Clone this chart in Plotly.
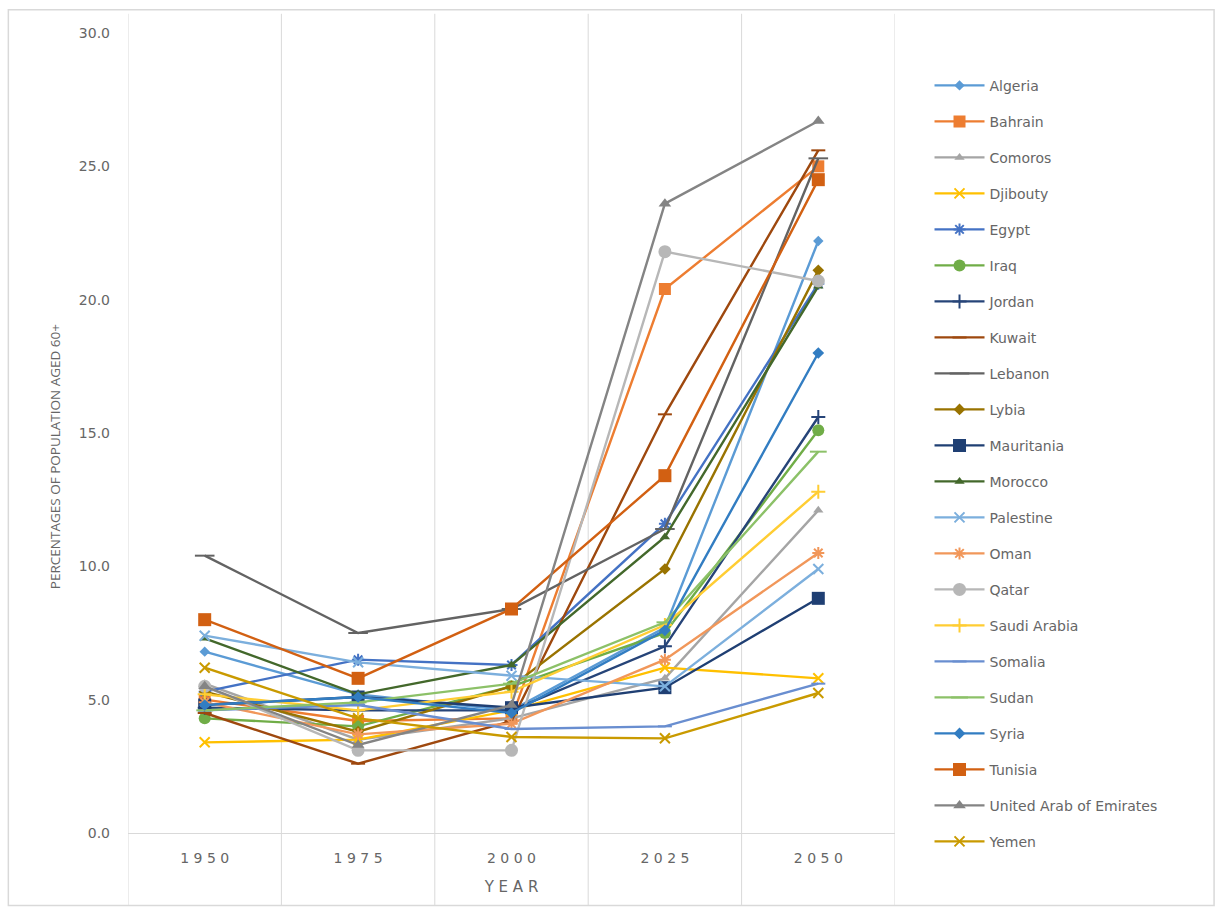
import plotly.graph_objects as go

# Share of population aged 60+ (%), Arab countries, 1950-2050
years = ["1950", "1975", "2000", "2025", "2050"]

countries = [
    "Algeria", "Bahrain", "Comoros", "Djibouty", "Egypt", "Iraq", "Jordan",
    "Kuwait", "Lebanon", "Lybia", "Mauritania", "Morocco", "Palestine",
    "Oman", "Qatar", "Saudi Arabia", "Somalia", "Sudan", "Syria", "Tunisia",
    "United Arab of Emirates", "Yemen",
]

algeria = [6.8, 5.2, 4.6, 7.7, 22.2]
bahrain = [5.0, 4.2, 4.3, 20.4, 25.0]
comoros = [5.6, 3.5, 4.3, 5.8, 12.1]
djibouty = [3.4, 3.5, 4.6, 6.2, 5.8]
egypt = [5.3, 6.5, 6.3, 11.6, 20.6]
iraq = [4.3, 4.0, 5.5, 7.5, 15.1]
jordan = [4.7, 4.6, 4.6, 7.0, 15.6]
kuwait = [4.5, 2.6, 4.2, 15.7, 25.6]
lebanon = [10.4, 7.5, 8.4, 11.4, 25.3]
lybia = [5.3, 3.8, 5.5, 9.9, 21.1]
mauritania = [4.8, 5.1, 4.7, 5.45, 8.8]
morocco = [7.3, 5.2, 6.3, 11.1, 20.5]
palestine = [7.4, 6.4, 5.9, 5.5, 9.9]
oman = [4.9, 3.7, 4.1, 6.5, 10.5]
qatar = [5.5, 3.1, 3.1, 21.8, 20.7]
saudi_arabia = [5.2, 4.6, 5.3, 7.8, 12.8]
somalia = [4.6, 4.8, 3.9, 4.0, 5.6]
sudan = [4.6, 4.9, 5.6, 7.9, 14.3]
syria = [4.8, 5.1, 4.5, 7.6, 18.0]
tunisia = [8.0, 5.8, 8.4, 13.4, 24.5]
uae = [5.5, 3.3, 4.8, 23.6, 26.7]
yemen = [6.2, 4.3, 3.6, 3.55, 5.25]

series = [algeria, bahrain, comoros, djibouty, egypt, iraq, jordan, kuwait,
          lebanon, lybia, mauritania, morocco, palestine, oman, qatar,
          saudi_arabia, somalia, sudan, syria, tunisia, uae, yemen]

colors = ["#5B9BD5", "#ED7D31", "#A5A5A5", "#FFC000", "#4472C4", "#70AD47",
          "#264478", "#9E480E", "#636363", "#997300", "#1F3F73", "#43682B",
          "#7CAFDD", "#F1975A", "#B7B7B7", "#FFCD33", "#698ED0", "#8CC168",
          "#327DC2", "#D26012", "#848484", "#C99A00"]

symbols = ["diamond", "square", "triangle-up", "x-thin", "asterisk", "circle",
           "cross-thin", "line-ew", "line-ew", "diamond", "square",
           "triangle-up", "x-thin", "asterisk", "circle", "cross-thin",
           "line-ew", "line-ew", "diamond", "square", "triangle-up", "x-thin"]

sizes = [8, 12, 9, 10, 10, 12, 10, 10, 14, 9, 13, 9, 10, 10, 13, 10, 10, 12,
         9, 13, 11, 10]

GREY = "#666666"
TEXT_FONT = "DejaVu Sans, Open Sans, sans-serif"

fig = go.Figure()
for i, (name, vals) in enumerate(zip(countries, series)):
    thin = symbols[i] in ("x-thin", "cross-thin", "line-ew", "asterisk")
    fig.add_trace(go.Scatter(
        x=years, y=vals, name=name, mode="lines+markers",
        legendgroup=name,
        line=dict(color=colors[i], width=2.4),
        marker=dict(symbol=symbols[i], size=sizes[i], color=colors[i],
                    line=dict(color=colors[i], width=2 if thin else 0)),
    ))

# Gridlines between year categories, running the full height of the chart
for b in [-0.5, 0.5, 1.5, 2.5, 3.5, 4.5]:
    fig.add_shape(type="line", xref="x", yref="paper", x0=b, x1=b,
                  y0=-0.09, y1=1.024, line=dict(color="#D9D9D9", width=1),
                  layer="below")

# Outer frame
fig.add_shape(type="rect", xref="paper", yref="paper",
              x0=-0.156, x1=1.416, y0=-0.0905, y1=1.029,
              line=dict(color="#D9D9D9", width=1.5))

# Vertical axis title
fig.add_annotation(
    text="PERCENTAGES OF POPULATION AGED 60+", textangle=-90,
    xref="paper", yref="paper", x=-0.095, y=0.47,
    xanchor="center", yanchor="middle", showarrow=False,
    font=dict(size=13.5, color=GREY, family="Open Sans, sans-serif"),
)

fig.update_layout(
    width=1222, height=913,
    margin=dict(l=128, r=327, t=33, b=80),
    paper_bgcolor="white", plot_bgcolor="white",
    font=dict(family=TEXT_FONT, color=GREY),
    xaxis=dict(
        type="category", range=[-0.5, 4.5],
        tickvals=years, ticktext=[" ".join(y) for y in years],
        tickfont=dict(size=14, color=GREY, family=TEXT_FONT),
        showgrid=False, showline=True, linecolor="#D9D9D9", linewidth=1,
        ticks="", ticklabelstandoff=12,
        title=dict(text="Y E A R", font=dict(size=15, color=GREY,
                                             family=TEXT_FONT),
                   standoff=16),
    ),
    yaxis=dict(
        range=[0, 30], tickvals=[0, 5, 10, 15, 20, 25, 30],
        ticktext=["0.0", "5.0", "10.0", "15.0", "20.0", "25.0", "30.0"],
        tickfont=dict(size=14, color=GREY, family=TEXT_FONT),
        showgrid=False, zeroline=False, showline=False, ticks="",
        ticklabelstandoff=17,
    ),
    legend=dict(
        x=1.045, y=0.954, xanchor="left", yanchor="top",
        font=dict(size=14, color=GREY, family=TEXT_FONT),
        tracegroupgap=14.8, itemwidth=50,
        bgcolor="rgba(0,0,0,0)",
    ),
)

fig.write_html("out.html")
